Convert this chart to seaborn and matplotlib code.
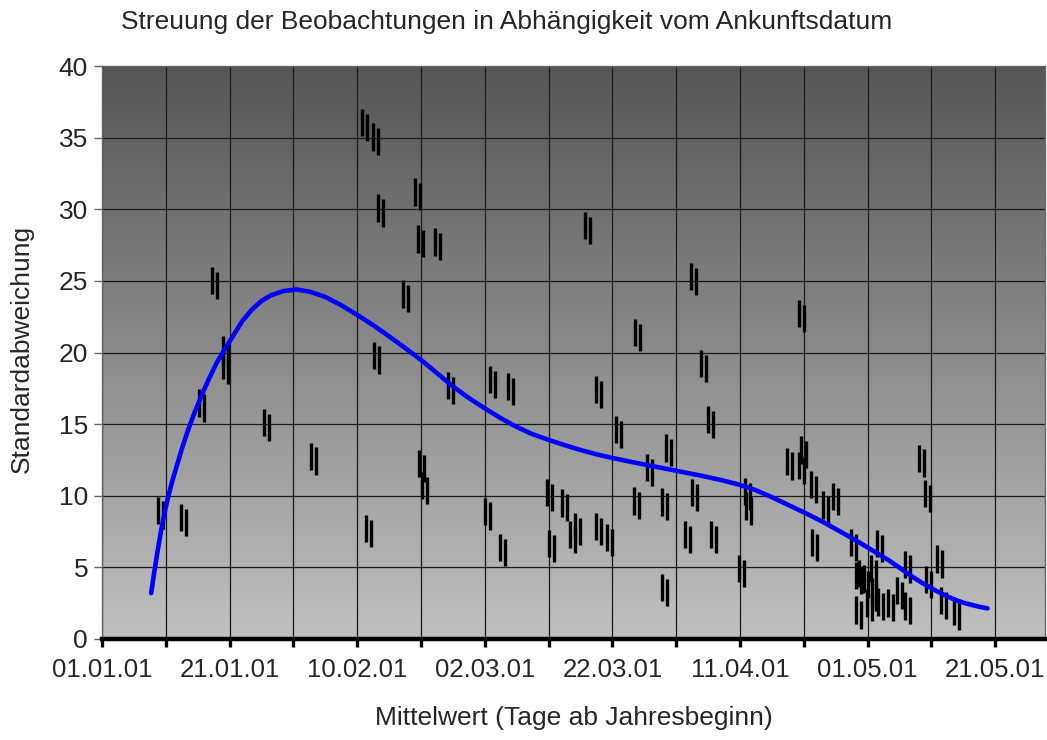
import numpy as np
import pandas as pd
import matplotlib
matplotlib.use("Agg")
import matplotlib.pyplot as plt
from matplotlib.path import Path
from matplotlib.colors import LinearSegmentedColormap
import seaborn as sns

# ---------------- data (days after 01.01.01, standard deviation) ----------------
obs_days = [9.2, 12.8, 15.6, 17.7, 19.3, 19.3, 25.8, 33.2, 41.2, 42.9,
            43.7, 43.1, 41.8, 47.5, 49.5, 49.9, 52.6, 50.1, 50.5, 54.6,
            61.2, 64.0, 60.4, 62.7, 70.2, 70.5, 72.5, 74.5, 73.7, 76.1,
            77.8, 77.8, 79.5, 80.9, 83.8, 84.0, 85.8, 88.1, 88.2, 88.8,
            91.7, 92.7, 92.9, 94.3, 95.4, 95.8, 100.3, 101.1, 101.3, 107.7,
            109.7, 109.9, 109.6, 111.5, 111.7, 113.4, 115.0, 117.8, 121.9, 126.3,
            131.3, 129.5, 131.9, 133.9, 128.4, 129.4, 126.2, 118.5, 120.3, 122.0,
            123.6, 125.0, 118.5, 119.1, 119.7, 120.9, 121.0]
obs_std = [8.80, 8.31, 16.27, 24.85, 20.03, 18.92, 14.94, 12.57, 35.88, 34.90,
           29.91, 19.62, 7.54, 23.94, 31.06, 27.78, 27.57, 12.08, 10.54, 17.52,
           17.94, 17.45, 8.73, 6.21, 10.05, 6.49, 9.35, 7.68, 7.12, 28.69,
           17.24, 7.68, 6.91, 14.45, 9.49, 21.22, 11.80, 9.42, 3.42, 13.19,
           7.12, 25.13, 10.05, 19.06, 15.15, 7.12, 4.75, 10.12, 9.14, 12.22,
           22.55, 13.05, 11.94, 10.61, 6.56, 9.21, 9.77, 6.56, 6.49, 5.03,
           5.44, 3.98, 2.51, 1.75, 12.43, 9.98, 2.16, 1.88, 2.37, 2.44,
           2.37, 3.21, 4.26, 4.40, 3.98, 4.75, 3.10]

# trend curve
trend_days = [7.7, 8.2, 8.7, 9.2, 9.7, 10.3, 11.0, 11.8, 12.6, 13.5,
              14.5, 15.6, 16.8, 18.0, 19.2, 20.6, 22.0, 23.5, 25.0, 26.5,
              28.5, 30.5, 32.5, 34.9, 37.5, 40.1, 42.7, 45.4, 47.7, 50.1,
              52.4, 54.8, 57.4, 60.0, 62.3, 64.7, 67.3, 70.0, 72.6, 75.2,
              77.8, 80.4, 83.0, 85.7, 88.0, 90.4, 93.8, 97.2, 99.8, 102.4,
              105.0, 107.6, 110.2, 112.9, 115.5, 118.1, 120.7, 123.3, 125.4, 127.0,
              128.6, 130.6, 132.2, 133.8, 135.1, 136.4, 137.6, 138.8]
trend_std = [3.2, 4.7, 6.1, 7.4, 8.6, 9.8, 11.0, 12.2, 13.4, 14.6,
             15.8, 17.0, 18.2, 19.3, 20.2, 21.2, 22.2, 23.0, 23.6, 24.0,
             24.3, 24.4, 24.25, 23.9, 23.3, 22.6, 21.85, 21.0, 20.25, 19.45,
             18.6, 17.7, 16.85, 16.1, 15.47, 14.87, 14.33, 13.9, 13.52, 13.17,
             12.86, 12.6, 12.36, 12.12, 11.92, 11.71, 11.41, 11.08, 10.78, 10.4,
             9.9, 9.35, 8.8, 8.2, 7.55, 6.9, 6.2, 5.5, 4.85, 4.35,
             3.9, 3.4, 3.03, 2.72, 2.52, 2.37, 2.24, 2.14]

tick_days = [0, 20, 40, 60, 80, 100, 120, 140]
tick_labels = ["01.01.01", "21.01.01", "10.02.01", "02.03.01",
               "22.03.01", "11.04.01", "01.05.01", "21.05.01"]
y_ticks = [0, 5, 10, 15, 20, 25, 30, 35, 40]

title = "Streuung der Beobachtungen in Abhängigkeit vom Ankunftsdatum"
xlabel = "Mittelwert (Tage ab Jahresbeginn)"
ylabel = "Standardabweichung"

# ---------------- figure ----------------
sns.set_theme(style="white")
plt.rcParams["font.family"] = ["Liberation Sans", "DejaVu Sans"]

fig = plt.figure(figsize=(10.47, 7.40), dpi=100)
ax = fig.add_axes([102 / 1047, 1 - 639 / 740, (1045 - 102) / 1047, (639 - 66) / 740])

XMAX = 147.8
# gradient background
cmap = LinearSegmentedColormap.from_list("bg", ["#c0c0c0", "#565656"])
grad = np.linspace(0, 1, 256).reshape(-1, 1)
ax.imshow(grad, extent=[0, XMAX, 0, 40], origin="lower", aspect="auto",
          cmap=cmap, zorder=0, interpolation="bilinear")

# double-bar marker
bar_marker = Path([(-2.5, 16.5), (-2.5, -11.5), (2.5, 11.5), (2.5, -16.5)],
                  [Path.MOVETO, Path.LINETO, Path.MOVETO, Path.LINETO])

df_obs = pd.DataFrame({"day": obs_days, "std": obs_std})
sns.scatterplot(data=df_obs, x="day", y="std", ax=ax, marker=bar_marker,
                s=560, color="black", facecolor="none", edgecolor="black",
                linewidth=2.4, zorder=3, legend=False)

df_tr = pd.DataFrame({"day": trend_days, "std": trend_std})
sns.lineplot(data=df_tr, x="day", y="std", ax=ax, color="#0000ff",
             linewidth=3.3, zorder=4, sort=False, solid_capstyle="round",
             solid_joinstyle="round")

ax.set_xlim(0, XMAX)
ax.set_ylim(0, 40)

# grid
xt = np.arange(0, XMAX, 10)
ax.set_xticks(xt)
ax.set_xticklabels([tick_labels[tick_days.index(d)] if d in tick_days else ""
                    for d in xt])
ax.set_yticks(y_ticks)
ax.grid(True, color="#1a1a1a", linewidth=0.9, zorder=1)
ax.set_axisbelow(True)
for gl in ax.get_xgridlines() + ax.get_ygridlines():
    gl.set_zorder(1)

for side in ["left", "top", "right"]:
    ax.spines[side].set_color("#666666")
    ax.spines[side].set_linewidth(1.0)
ax.spines["bottom"].set_color("black")
ax.spines["bottom"].set_linewidth(3.2)
ax.spines["bottom"].set_zorder(5)

ax.tick_params(axis="x", direction="out", length=6, width=2.4, color="black",
               labelsize=18.5, pad=8, bottom=True)
ax.tick_params(axis="y", direction="out", length=6, width=1.0, color="#666666",
               labelsize=19, pad=4, left=True)
for t in ax.get_xticklines():
    t.set_solid_capstyle("round")

ax.set_xlabel("")
ax.set_ylabel("")

fig.text(506.5 / 1047, 1 - 22 / 740, title, ha="center", va="center", fontsize=19)
fig.text(574 / 1047, 1 - 718 / 740, xlabel, ha="center", va="center", fontsize=19)
fig.text(22 / 1047, 1 - 349 / 740, ylabel, ha="center", va="center",
         rotation=90, fontsize=19)

fig.savefig("out.png", dpi=100)
